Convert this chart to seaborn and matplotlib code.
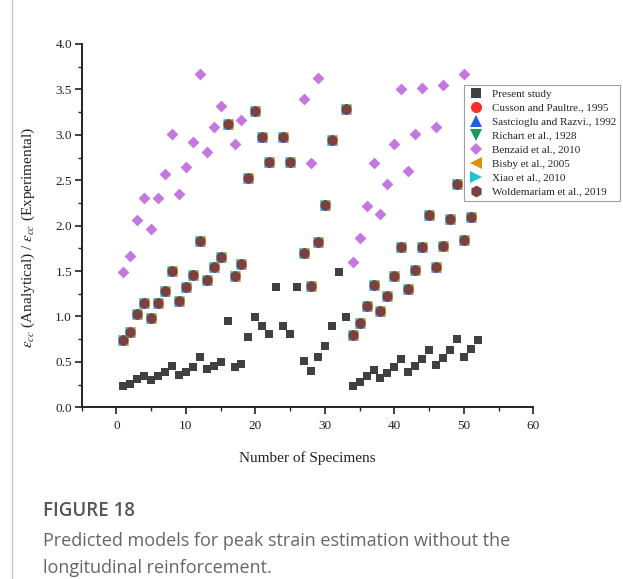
import numpy as np
import pandas as pd
import matplotlib
matplotlib.use("Agg")
import matplotlib.pyplot as plt
import seaborn as sns
from matplotlib.lines import Line2D

# ---------------- data ----------------
present_x = list(range(1, 53))
present_y = [0.23, 0.26, 0.31, 0.35, 0.30, 0.35, 0.39, 0.46, 0.36, 0.39,
             0.44, 0.55, 0.42, 0.46, 0.50, 0.95, 0.44, 0.48, 0.77, 0.99,
             0.90, 0.81, 1.32, 0.90, 0.81, 1.32, 0.51, 0.40, 0.55, 0.68,
             0.89, 1.49, 0.99, 0.24, 0.28, 0.34, 0.41, 0.32, 0.38, 0.44,
             0.53, 0.39, 0.45, 0.53, 0.63, 0.47, 0.54, 0.63, 0.75, 0.55,
             0.64, 0.74]

# models that coincide (Cusson, Sastcioglu, Richart, Bisby, Xiao, Woldemariam)
model_x = [1, 2, 3, 4, 5, 6, 7, 8, 9, 10, 11, 12, 13, 14, 15, 16, 17, 18,
           19, 20, 21, 22, 24, 25, 27, 28, 29, 30, 31, 33, 34, 35, 36, 37,
           38, 39, 40, 41, 42, 43, 44, 45, 46, 47, 48, 49, 50, 51]
model_y = [0.74, 0.83, 1.03, 1.15, 0.98, 1.15, 1.28, 1.50, 1.17, 1.32,
           1.46, 1.83, 1.40, 1.55, 1.66, 3.12, 1.45, 1.58, 2.53, 3.26,
           2.98, 2.70, 2.98, 2.70, 1.70, 1.34, 1.82, 2.23, 2.94, 3.28,
           0.80, 0.93, 1.11, 1.35, 1.06, 1.23, 1.45, 1.76, 1.30, 1.51,
           1.76, 2.12, 1.55, 1.78, 2.07, 2.46, 1.84, 2.10]

benzaid_x = [1, 2, 3, 4, 5, 6, 7, 8, 9, 10, 11, 12, 13, 14, 15, 17, 18,
             27, 28, 29, 34, 35, 36, 37, 38, 39, 40, 41, 42, 43, 44, 46, 47, 50]
benzaid_y = [1.49, 1.67, 2.06, 2.30, 1.96, 2.30, 2.57, 3.01, 2.35, 2.65,
             2.92, 3.67, 2.81, 3.09, 3.32, 2.90, 3.16,
             3.39, 2.69, 3.63, 1.60, 1.86, 2.22, 2.69, 2.13, 2.46, 2.90,
             3.51, 2.60, 3.01, 3.52, 3.09, 3.55, 3.67]

legend_labels = ["Present study", "Cusson and Paultre., 1995",
                 "Sastcioglu and Razvi., 1992", "Richart et al., 1928",
                 "Benzaid et al., 2010", "Bisby et al., 2005",
                 "Xiao et al., 2010", "Woldemariam et al., 2019"]

# ---------------- style ----------------
sns.set_style("ticks")
plt.rcParams["font.family"] = ["Liberation Serif", "DejaVu Serif"]
plt.rcParams["mathtext.fontset"] = "stix"

W, H = 623, 579
fig = plt.figure(figsize=(W / 100, H / 100), dpi=100)
ax = fig.add_axes([81.7 / W, 1 - 407.3 / H, (533.3 - 81.7) / W, (407.3 - 44) / H])

pres = pd.DataFrame({"x": present_x, "y": present_y})
mod = pd.DataFrame({"x": model_x, "y": model_y})
benz = pd.DataFrame({"x": benzaid_x, "y": benzaid_y})

colors = {"present": "#404040", "cusson": "#ff2a2a", "sast": "#1f5fe0",
          "richart": "#1a9a5a", "benzaid": "#c477e0", "bisby": "#d8920c",
          "xiao": "#19c6d6", "wolde": "#7d4040"}

sns.scatterplot(data=pres, x="x", y="y", marker="s", s=30, color=colors["present"],
                linewidth=0, ax=ax, zorder=3)
sns.scatterplot(data=mod, x="x", y="y", marker="o", s=54, color=colors["cusson"],
                linewidth=0, ax=ax, zorder=3)
sns.scatterplot(data=mod, x="x", y="y", marker="^", s=54, color=colors["sast"],
                linewidth=0, ax=ax, zorder=3)
sns.scatterplot(data=mod, x="x", y="y", marker="v", s=54, color=colors["richart"],
                linewidth=0, ax=ax, zorder=3)
sns.scatterplot(data=benz, x="x", y="y", marker="D", s=36, color=colors["benzaid"],
                linewidth=0, ax=ax, zorder=3)
sns.scatterplot(data=mod, x="x", y="y", marker="<", s=54, color=colors["bisby"],
                linewidth=0, ax=ax, zorder=3)
sns.scatterplot(data=mod, x="x", y="y", marker=">", s=54, color=colors["xiao"],
                linewidth=0, ax=ax, zorder=3)
sns.scatterplot(data=mod, x="x", y="y", marker="h", s=64, color=colors["wolde"],
                linewidth=0, ax=ax, zorder=4)

ax.set_xlim(-5, 60)
ax.set_ylim(0, 4.0)
ax.set_xticks([0, 10, 20, 30, 40, 50, 60])
ax.set_xticks(np.arange(-5, 61, 5), minor=True)
ax.set_yticks(np.arange(0, 4.01, 0.5))
ax.set_yticks(np.arange(0, 4.01, 0.25), minor=True)
ax.set_yticklabels([f"{v:.1f}" for v in np.arange(0, 4.01, 0.5)])
ax.tick_params(axis="both", which="major", direction="out", length=5, width=1.2,
               labelsize=9.5, colors="#222222")
ax.tick_params(axis="y", which="major", pad=2)
ax.tick_params(axis="x", which="major", pad=4)
ax.tick_params(axis="both", which="minor", direction="out", length=3, width=1.0,
               colors="#222222")
sns.despine(ax=ax)
for sp in ("left", "bottom"):
    ax.spines[sp].set_linewidth(1.4)
    ax.spines[sp].set_color("#222222")

ax.set_xlabel("Number of Specimens", fontsize=11, labelpad=14, color="#222222")
ax.set_ylabel(r"$\varepsilon_{cc}$ (Analytical) / $\varepsilon_{cc}$ (Experimental)",
              fontsize=11, color="#222222")
ax.yaxis.set_label_coords(-0.099, 0.468)

markers = ["s", "o", "^", "v", "D", "<", ">", "h"]
cols = [colors[k] for k in ["present", "cusson", "sast", "richart", "benzaid",
                            "bisby", "xiao", "wolde"]]
msz = [7.0, 8.0, 8.0, 8.0, 6.5, 8.0, 8.0, 8.5]
handles = [Line2D([], [], linestyle="none", marker=m, color=c, markersize=z,
                  markeredgewidth=0) for m, c, z in zip(markers, cols, msz)]
leg = fig.legend(handles, legend_labels, loc="upper left",
                 bbox_to_anchor=(464 / W, 1 - 85 / H), borderaxespad=0,
                 fontsize=8, frameon=True, fancybox=False, handlelength=1.5,
                 handletextpad=0.7, labelspacing=0.38, borderpad=0.35,
                 edgecolor="#888888")
leg.get_frame().set_linewidth(0.8)

# page border line at left
fig.add_artist(Line2D([12 / W, 12 / W], [0, 1], color="#c8c8c8", linewidth=1.0))

cap_font = ["Open Sans", "DejaVu Sans"]
fig.text(43 / W, 1 - 511 / H, "FIGURE 18", fontsize=13.5, color="#555555",
         family=cap_font, weight="semibold", va="center", ha="left")
fig.text(43 / W, 1 - 541 / H,
         "Predicted models for peak strain estimation without the",
         fontsize=13, color="#666666", family=cap_font, va="center", ha="left")
fig.text(43 / W, 1 - 568 / H, "longitudinal reinforcement.",
         fontsize=13, color="#666666", family=cap_font, va="center", ha="left")

fig.savefig("out.png", dpi=100, facecolor="white")
